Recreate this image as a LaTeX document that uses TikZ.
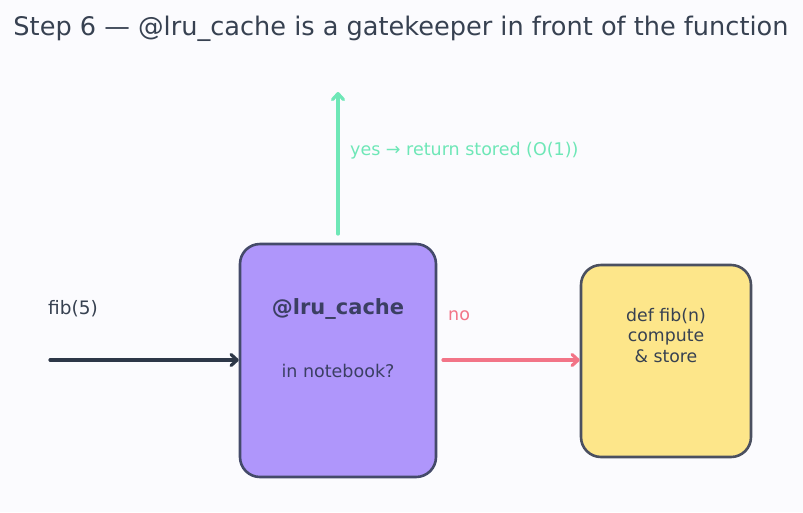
\documentclass[tikz,border=0pt]{standalone}
\usepackage{fontspec}
\setmainfont{DejaVu Sans}
\usetikzlibrary{arrows.meta}
\definecolor{bg}{HTML}{FBFBFE}
\definecolor{titlec}{HTML}{374151}
\definecolor{purplef}{HTML}{AF96FB}
\definecolor{purplel}{HTML}{444A6A}
\definecolor{purplet}{HTML}{3B3F63}
\definecolor{yellowf}{HTML}{FDE68A}
\definecolor{yellowl}{HTML}{4B5060}
\definecolor{darkc}{HTML}{2D3748}
\definecolor{redc}{HTML}{F27487}
\definecolor{greenc}{HTML}{6EE7B7}
\tikzset{
  box/.style={draw, line width=2.6pt, rounded corners=20pt, inner sep=0pt},
  conn/.style={line width=3.2pt, line cap=round, -{Straight Barb[length=6pt,width=11pt,line cap=round,line join=round]}},
  lbl/.style={font=\fontsize{17.5}{21}\selectfont, inner sep=0pt},
}
\begin{document}
\begin{tikzpicture}[x=1pt,y=-1pt]
\fill[bg] (0,0) rectangle (803,512);
\useasboundingbox (0,0) rectangle (803,512);
\node[font=\fontsize{25.6}{30}\selectfont, text=titlec] (title) at (401,28.5) {Step 6 — @lru\_cache is a gatekeeper in front of the function};
\node[box, fill=purplef, draw=purplel, minimum width=196pt, minimum height=233pt] (cache) at (338,360.5) {};
\node[font=\bfseries\fontsize{21}{25}\selectfont, text=purplet] (cname) at (338,308.5) {@lru\_cache};
\node[lbl, text=purplet] (cq) at (338,370.5) {in notebook?};
\node[box, fill=yellowf, draw=yellowl, minimum width=170pt, minimum height=192pt] (fib) at (666,361) {};
\node[lbl, text=titlec, align=center, font=\fontsize{17.3}{20.5}\selectfont] (fibt) at (666,335.5) {def fib(n)\\compute\\\& store};
\coordinate (start) at (50,360);
\node[lbl, text=titlec, anchor=west, font=\fontsize{18.5}{22}\selectfont] (in) at (48,309) {fib(5)};
\draw[conn, darkc] (start) -- (cache.west |- start);
\coordinate (nostart) at (443,360);
\draw[conn, redc] (nostart) -- (fib.west |- nostart);
\node[lbl, text=redc, anchor=west] (no) at (448,315.5) {no};
\coordinate (ystart) at (338,234);
\coordinate (yend) at (338,92);
\draw[conn, greenc] (ystart) -- (yend);
\node[lbl, text=greenc, anchor=west] (yes) at (350,151) {yes → return stored (O(1))};
\end{tikzpicture}
\end{document}
